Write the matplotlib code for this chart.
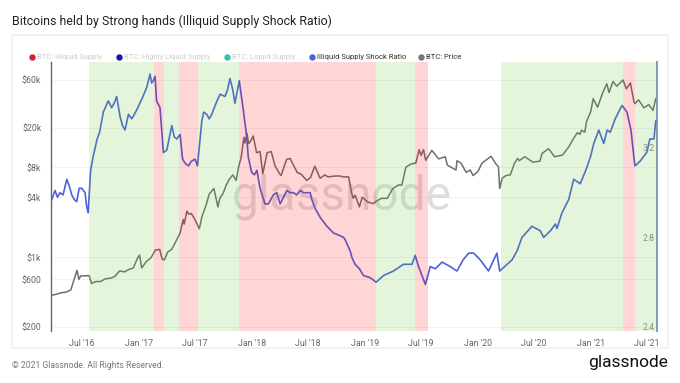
import pandas as pd
import matplotlib.pyplot as plt
import matplotlib.dates as mdates
from matplotlib.patches import FancyBboxPatch
from matplotlib.lines import Line2D
from matplotlib.ticker import FixedLocator, NullLocator

plt.rcParams['font.family'] = ['Roboto', 'DejaVu Sans']

# BTC price (USD)
price_dates = ['2016-03-24', '2016-04-10', '2016-04-25', '2016-05-10', '2016-05-27', '2016-06-05',
               '2016-06-16', '2016-06-22', '2016-06-28', '2016-07-10', '2016-07-25', '2016-08-02',
               '2016-08-15', '2016-09-01', '2016-09-15', '2016-10-01', '2016-10-15', '2016-11-01',
               '2016-11-15', '2016-12-01', '2016-12-15', '2016-12-28', '2017-01-04', '2017-01-11',
               '2017-01-25', '2017-02-10', '2017-02-24', '2017-03-10', '2017-03-18', '2017-03-25',
               '2017-04-05', '2017-04-18', '2017-05-04', '2017-05-15', '2017-05-25', '2017-05-28',
               '2017-06-06', '2017-06-12', '2017-06-20', '2017-07-01', '2017-07-16', '2017-07-25',
               '2017-08-05', '2017-08-17', '2017-09-01', '2017-09-14', '2017-09-20', '2017-10-01',
               '2017-10-12', '2017-10-20', '2017-11-01', '2017-11-12', '2017-11-20', '2017-11-28',
               '2017-12-07', '2017-12-10', '2017-12-17', '2017-12-22', '2017-12-28', '2018-01-06',
               '2018-01-17', '2018-01-28', '2018-02-06', '2018-02-20', '2018-03-05', '2018-03-18',
               '2018-04-01', '2018-04-06', '2018-04-24', '2018-05-05', '2018-05-28', '2018-06-10',
               '2018-06-28', '2018-07-10', '2018-07-24', '2018-08-10', '2018-08-25', '2018-09-05',
               '2018-09-20', '2018-10-10', '2018-10-25', '2018-11-10', '2018-11-20', '2018-11-25',
               '2018-12-01', '2018-12-15', '2018-12-24', '2019-01-10', '2019-01-28', '2019-02-08',
               '2019-02-24', '2019-03-15', '2019-04-02', '2019-04-20', '2019-05-01', '2019-05-14',
               '2019-05-30', '2019-06-15', '2019-06-26', '2019-07-02', '2019-07-10', '2019-07-17',
               '2019-08-06', '2019-08-28', '2019-09-18', '2019-09-25', '2019-10-23', '2019-10-26',
               '2019-11-08', '2019-11-25', '2019-12-08', '2019-12-17', '2020-01-01', '2020-01-15',
               '2020-02-13', '2020-02-28', '2020-03-08', '2020-03-12', '2020-03-20', '2020-04-01',
               '2020-04-15', '2020-04-29', '2020-05-09', '2020-05-14', '2020-06-01', '2020-06-27',
               '2020-07-20', '2020-07-27', '2020-08-17', '2020-09-05', '2020-10-01', '2020-10-21',
               '2020-11-05', '2020-11-18', '2020-11-26', '2020-12-01', '2020-12-12', '2020-12-17',
               '2020-12-31', '2021-01-08', '2021-01-22', '2021-02-08', '2021-02-21', '2021-02-28',
               '2021-03-13', '2021-03-25', '2021-04-14', '2021-04-25', '2021-05-08', '2021-05-19',
               '2021-05-23', '2021-06-03', '2021-06-21', '2021-07-06', '2021-07-20', '2021-07-29',
               '2021-08-01']
price_usd = [415, 425, 440, 445, 470, 575,
             740, 600, 650, 650, 655, 545,
             570, 572, 607, 615, 638, 730,
             712, 755, 780, 975, 1050, 780,
             900, 990, 1180, 1200, 960, 940,
             1130, 1200, 1500, 1750, 2400, 2150,
             2900, 2700, 2750, 2420, 1930, 2600,
             3200, 4300, 4900, 3200, 3900, 4400,
             5400, 6000, 6700, 5900, 8100, 10000,
             16000, 14000, 17500, 13800, 14500, 16500,
             11200, 11500, 6900, 11200, 11500, 8200,
             6900, 6600, 9600, 9800, 7100, 6800,
             5900, 6300, 8200, 6200, 6700, 6400,
             6500, 6550, 6400, 6400, 4400, 3900,
             4200, 3200, 4000, 3600, 3450, 3650,
             3900, 3900, 4900, 5300, 5300, 8000,
             8600, 8800, 12000, 10500, 12000, 9400,
             11800, 9700, 10200, 8400, 7500, 9300,
             8800, 7100, 7500, 6600, 7200, 8800,
             10300, 8700, 8100, 4900, 6200, 6600,
             6700, 8800, 9800, 9300, 10200, 9000,
             9200, 11000, 12300, 10200, 10600, 12800,
             15500, 17800, 17100, 18800, 18000, 22800,
             29000, 39000, 32000, 45000, 55000, 45000,
             58000, 52000, 60000, 49000, 56000, 37000,
             34700, 38000, 31600, 34000, 29800, 39000,
             39900]

# Illiquid Supply Shock Ratio
ratio_dates = ['2016-03-24', '2016-04-06', '2016-04-14', '2016-04-22', '2016-05-02', '2016-05-14',
               '2016-05-22', '2016-05-30', '2016-06-07', '2016-06-15', '2016-06-23', '2016-07-01',
               '2016-07-12', '2016-07-17', '2016-07-22', '2016-07-30', '2016-08-07', '2016-08-20',
               '2016-08-28', '2016-09-09', '2016-09-25', '2016-10-06', '2016-10-14', '2016-10-22',
               '2016-11-02', '2016-11-10', '2016-11-18', '2016-11-29', '2016-12-10', '2016-12-26',
               '2017-01-05', '2017-01-15', '2017-01-27', '2017-02-07', '2017-02-12', '2017-02-17',
               '2017-02-23', '2017-02-28', '2017-03-11', '2017-03-22', '2017-04-02', '2017-04-18',
               '2017-04-26', '2017-05-04', '2017-05-15', '2017-05-23', '2017-06-01', '2017-06-11',
               '2017-06-20', '2017-07-02', '2017-07-10', '2017-07-24', '2017-07-30', '2017-08-09',
               '2017-08-17', '2017-08-25', '2017-09-08', '2017-09-21', '2017-10-07', '2017-10-15',
               '2017-10-23', '2017-11-01', '2017-11-08', '2017-11-15', '2017-11-22', '2017-12-05',
               '2017-12-16', '2017-12-21', '2018-01-01', '2018-01-10', '2018-01-18', '2018-01-28',
               '2018-02-13', '2018-02-24', '2018-03-12', '2018-03-23', '2018-04-03', '2018-04-14',
               '2018-04-25', '2018-05-05', '2018-05-16', '2018-05-26', '2018-06-07', '2018-06-18',
               '2018-06-28', '2018-07-09', '2018-07-14', '2018-07-25', '2018-08-10', '2018-09-01',
               '2018-09-22', '2018-10-10', '2018-10-25', '2018-10-30', '2018-11-15', '2018-11-21',
               '2018-12-01', '2018-12-15', '2018-12-28', '2019-01-19', '2019-02-07', '2019-03-03',
               '2019-04-04', '2019-05-06', '2019-06-03', '2019-06-13', '2019-06-24', '2019-07-05',
               '2019-07-16', '2019-08-01', '2019-08-17', '2019-09-08', '2019-10-04', '2019-10-26',
               '2019-11-15', '2019-12-03', '2019-12-19', '2020-01-09', '2020-02-05', '2020-03-03',
               '2020-03-12', '2020-04-05', '2020-04-21', '2020-05-07', '2020-05-23', '2020-06-24',
               '2020-07-21', '2020-08-01', '2020-08-23', '2020-09-08', '2020-09-13', '2020-09-29',
               '2020-10-21', '2020-11-06', '2020-11-27', '2020-12-15', '2020-12-30', '2021-01-10',
               '2021-01-26', '2021-02-11', '2021-02-22', '2021-03-04', '2021-03-20', '2021-04-11',
               '2021-04-27', '2021-05-10', '2021-05-20', '2021-05-23', '2021-06-08', '2021-06-30',
               '2021-07-10', '2021-07-23', '2021-07-29']
ratio_vals = [2.96, 3.01, 2.98, 3.00, 2.99, 3.06,
              3.03, 2.99, 2.97, 2.96, 3.02, 3.02,
              3.00, 2.94, 2.91, 3.10, 3.16, 3.24,
              3.27, 3.36, 3.41, 3.38, 3.40, 3.43,
              3.34, 3.30, 3.28, 3.35, 3.33, 3.37,
              3.40, 3.43, 3.47, 3.53, 3.49, 3.50,
              3.52, 3.41, 3.38, 3.18, 3.19, 3.30,
              3.25, 3.24, 3.26, 3.15, 3.13, 3.12,
              3.14, 3.15, 3.12, 3.32, 3.36, 3.35,
              3.33, 3.35, 3.40, 3.44, 3.43, 3.46,
              3.51, 3.46, 3.40, 3.45, 3.50, 3.37,
              3.25, 3.16, 3.09, 3.08, 3.10, 3.02,
              2.95, 2.95, 2.99, 3.00, 2.95, 2.98,
              3.01, 3.00, 3.00, 2.99, 3.01, 3.00,
              3.00, 3.00, 2.97, 2.93, 2.89, 2.85,
              2.82, 2.81, 2.80, 2.79, 2.74, 2.71,
              2.68, 2.66, 2.63, 2.62, 2.60, 2.63,
              2.65, 2.68, 2.68, 2.72, 2.67, 2.63,
              2.59, 2.67, 2.66, 2.69, 2.67, 2.65,
              2.70, 2.73, 2.73, 2.70, 2.65, 2.73,
              2.65, 2.68, 2.70, 2.74, 2.80, 2.85,
              2.83, 2.80, 2.83, 2.86, 2.84, 2.91,
              2.97, 3.06, 3.04, 3.10, 3.16, 3.22,
              3.28, 3.22, 3.28, 3.27, 3.33, 3.39,
              3.36, 3.28, 3.15, 3.12, 3.14, 3.18,
              3.24, 3.24, 3.32]

# background bands: g = accumulation (green), r = distribution (red)
band_start = ['2016-07-25', '2017-02-19', '2017-03-23', '2017-05-11', '2017-07-11', '2017-11-21',
              '2019-02-07', '2019-06-14', '2020-03-17', '2021-04-14', '2021-05-23']
band_end = ['2017-02-19', '2017-03-23', '2017-05-11', '2017-07-11', '2017-11-21', '2019-02-07',
            '2019-06-14', '2019-07-24', '2021-04-14', '2021-05-23', '2021-08-02']
band_kind = ['g', 'r', 'g', 'r', 'g', 'r', 'g', 'r', 'g', 'r', 'g']

price_ticks = [200, 600, 1000, 4000, 8000, 20000, 60000]
price_labels = ['$200', '$600', '$1k', '$4k', '$8k', '$20k', '$60k']
ratio_ticks = [2.4, 2.8, 3.2]

legend_names = ['BTC: Illiquid Supply', 'BTC: Highly Liquid Supply', 'BTC: Liquid Supply',
                'Illiquid Supply Shock Ratio', 'BTC: Price']

c_blue = '#4c62dc'
c_gray = '#6f6f6f'
band_colors = {'g': '#62c82a', 'r': '#ff0000'}

W, H = 680, 383
fig = plt.figure(figsize=(W / 100, H / 100), dpi=100)

# panel frame
fig.add_artist(FancyBboxPatch((12 / W, 35 / H), 656 / W, 313 / H, transform=fig.transFigure,
                              boxstyle='round,pad=0,rounding_size=0.004', fc='none',
                              ec='#e8e8e8', lw=0.8))

ax = fig.add_axes([51 / W, 52 / H, 606 / W, 269 / H])
ax2 = ax.twinx()

pd_price = pd.to_datetime(price_dates)
pd_ratio = pd.to_datetime(ratio_dates)

ax.plot(pd_price, price_usd, color=c_gray, lw=1.1, zorder=3)
ax.set_yscale('log')
ax.set_ylim(182, 91000)
ax.yaxis.set_major_locator(FixedLocator(price_ticks))
ax.yaxis.set_minor_locator(NullLocator())
ax.set_yticklabels(price_labels)
ax.tick_params(axis='y', length=0, pad=7, labelsize=6.3, labelcolor='#666666')
for v in price_ticks:
    ax.axhline(v, color='#f1f1f1', lw=0.6, zorder=0)

ax2.plot(pd_ratio, ratio_vals, color=c_blue, lw=1.2, zorder=3)
ax2.set_ylim(2.382, 3.584)
ax2.yaxis.set_major_locator(FixedLocator(ratio_ticks))
ax2.tick_params(axis='y', length=0, pad=-2, labelsize=6.3, labelcolor='#8a8a8a')
for lbl in ax2.get_yticklabels():
    lbl.set_horizontalalignment('right')

# bands on top of the lines
for s, e, k in zip(band_start, band_end, band_kind):
    ax2.axvspan(pd.Timestamp(s), pd.Timestamp(e), color=band_colors[k],
                alpha=0.165 if k == 'r' else 0.17, lw=0, zorder=5)

ax.set_xlim(pd.Timestamp('2016-03-24'), pd.Timestamp('2021-08-02'))
ax.xaxis.set_major_locator(mdates.MonthLocator(bymonth=[1, 7]))
ax.xaxis.set_major_formatter(mdates.DateFormatter("%b '%y"))
ax.tick_params(axis='x', length=0, pad=6, labelsize=6.3, labelcolor='#666666')

for a in (ax, ax2):
    a.spines['top'].set_visible(False)
    a.spines['bottom'].set_visible(False)
    a.set_facecolor('none')
ax.spines['right'].set_visible(False)
ax2.spines['left'].set_visible(False)
ax.spines['left'].set_color('#666666')
ax.spines['left'].set_linewidth(1.0)
ax2.spines['right'].set_color('#7f98d8')
ax2.spines['right'].set_linewidth(1.4)

# watermark
ax.text(0.48, 0.5, 'glassnode', transform=ax.transAxes, ha='center', va='center',
        fontsize=34.5, color='#d6d6d6', alpha=0.8, zorder=1)

# title, legend, footer
fig.text(12 / W, 1 - 21 / H, 'Bitcoins held by Strong hands (Illiquid Supply Shock Ratio)',
         fontsize=8.9, color='#222222', va='center')

leg_x = [32, 119, 227, 312, 421]
leg_c = ['#c8262b', '#1e12a8', '#2ec4aa', c_blue, '#777777']
leg_tc = ['#cdcdcd', '#cdcdcd', '#cdcdcd', '#333333', '#333333']
for x, name, c, tc in zip(leg_x, legend_names, leg_c, leg_tc):
    fig.add_artist(Line2D([x / W], [1 - 57 / H], marker='o', ms=3.6, color=c, lw=0,
                          transform=fig.transFigure))
    fig.text((x + 5) / W, 1 - 57 / H, name, fontsize=5.5, color=tc, va='center')

fig.text(12 / W, 1 - 366 / H, '\u00a9 2021 Glassnode. All Rights Reserved.', fontsize=6.2,
         color='#777777', va='center')
fig.text(668 / W, 1 - 363 / H, 'glassnode', fontsize=12.5, color='#111111', ha='right',
         va='center')

fig.savefig('out.png', dpi=100)
